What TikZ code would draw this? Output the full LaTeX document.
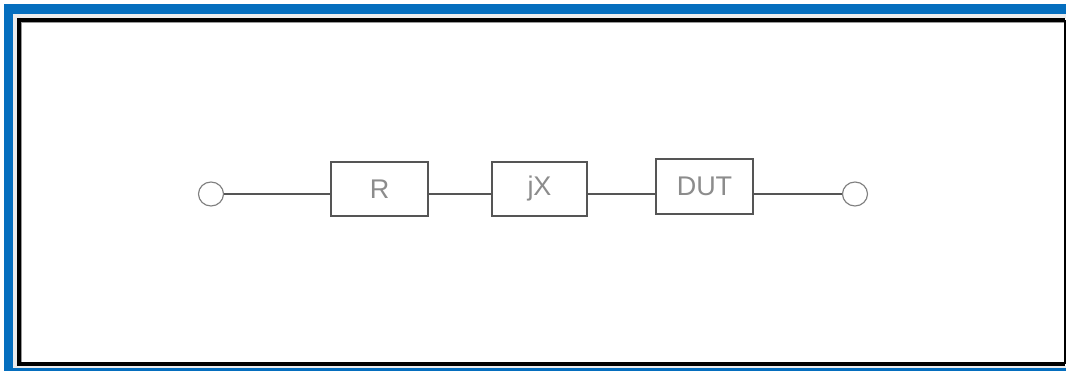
\documentclass[tikz,border=0pt]{standalone}
\usepackage{fontspec}
\setmainfont{Liberation Sans}
\definecolor{frameblue}{RGB}{5,110,190}
\definecolor{inkgray}{RGB}{85,85,85}
\definecolor{textgray}{RGB}{140,140,140}
\usetikzlibrary{shapes.geometric}
\tikzset{
  x=1pt,y=-1pt,
  block/.style={draw=inkgray,line width=1.15pt,fill=white,inner sep=0pt,text=textgray,
    font=\fontsize{27}{27}\selectfont},
  terminal/.style={draw=inkgray!75,line width=1.15pt,ellipse,inner sep=0pt,minimum width=25pt,minimum height=24pt},
  wire/.style={draw=inkgray,line width=1.15pt}
}
\begin{document}
\begin{tikzpicture}
\useasboundingbox (0,0) rectangle (1066,371);
\fill[white] (0,0) rectangle (1066,371);
% outer blue frame
\fill[frameblue] (4,4.5) rectangle (1066,371);
\fill[white!85!gray] (12.5,14.5) rectangle (1066,368);
% black inner frame
\fill[white] (17,18) rectangle (1066,366);
\draw[black,line width=4pt] (19,20) -- (1065,20);
\draw[black,line width=4pt] (19,18) -- (19,364.5) -- (1065,364.5);
\draw[black,line width=2pt] (1065,20) -- (1065,364.5);
\draw[black!40,line width=1.2pt] (21,22.6) -- (1064,22.6);
\draw[black!40,line width=1.2pt] (21.6,22) -- (21.6,362.5);
% circuit
\node[terminal] (a) at (211,194) {};
\node[terminal] (b) at (855,194) {};
\node[block,minimum width=97pt,minimum height=54pt] (r) at (379.5,189) {R};
\node[block,minimum width=95pt,minimum height=54pt] (j) at (539.5,189) {jX};
\node[block,minimum width=97pt,minimum height=55pt] (d) at (704.5,186.5) {DUT};
\draw[wire] (a.east) -- (a.east -| r.west);
\draw[wire] (a.east -| r.east) -- (a.east -| j.west);
\draw[wire] (a.east -| j.east) -- (a.east -| d.west);
\draw[wire] (a.east -| d.east) -- (b.west);
\end{tikzpicture}
\end{document}
